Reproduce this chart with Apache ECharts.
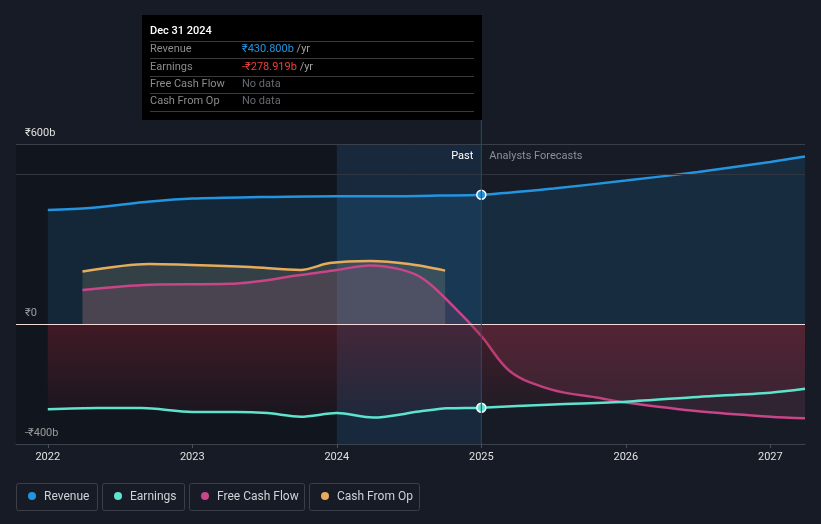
<!DOCTYPE html>
<html><head><meta charset="utf-8">
<script src="https://cdn.jsdelivr.net/npm/echarts@6/dist/echarts.min.js"></script>
<style>html,body{margin:0;padding:0;background:#161b25;}#c{width:821px;height:524px;}</style>
</head><body><div id="c"></div>
<script>
// ---- data (year as decimal, value in ₹ billions) ----
const xTicks = [2022, 2023, 2024, 2025, 2026, 2027];
const yTickValues = [-400, 0, 600];
const yTickLabels = ['-₹400b', '₹0', '₹600b'];
const revenue = [[2022.0,380],[2022.29,387],[2022.71,408],[2023.0,418],[2023.47,423],[2024.0,426],[2024.44,426],[2024.71,428],[2025.0,430.8],[2025.5,452],[2026.0,478],[2026.5,507],[2027.0,540],[2027.24,558]];
const earnings = [[2022.0,-284],[2022.35,-280],[2022.65,-280],[2023.0,-293],[2023.3,-293],[2023.52,-297],[2023.75,-309],[2024.0,-297],[2024.25,-312],[2024.57,-292],[2024.76,-281],[2025.0,-278.9],[2025.5,-268],[2026.0,-259],[2026.5,-243],[2027.0,-229],[2027.24,-216]];
const freeCashFlow = [[2022.24,113],[2022.71,131],[2023.26,134],[2023.75,163],[2024.0,180],[2024.23,195],[2024.44,182],[2024.6,150],[2024.8,62],[2025.0,-40],[2025.2,-158],[2025.48,-218],[2025.82,-247],[2026.0,-262],[2026.52,-292],[2027.0,-309],[2027.24,-314]];
const cashFromOp = [[2022.24,175],[2022.7,200],[2023.0,197],[2023.4,190],[2023.75,180],[2023.95,203],[2024.23,210],[2024.5,200],[2024.75,178]];
const highlightDate = 2025.0;
const tooltipRows = [
  ['Revenue', '₹430.800b', '#2394df', ' /yr'],
  ['Earnings', '-₹278.919b', '#e8413c', ' /yr'],
  ['Free Cash Flow', 'No data', '#666a70', ''],
  ['Cash From Op', 'No data', '#666a70', '']
];
const legendItems = [['Revenue','#2394df'],['Earnings','#5ee3cf'],['Free Cash Flow','#c8458a'],['Cash From Op','#e6ac5c']];

const FONT = 'Roboto, "Noto Sans", sans-serif';
const chart = echarts.init(document.getElementById('c'), null, {renderer:'canvas'});

function withDot(data, x, color){
  return data.map(d => d[0] === x ? {value:d, symbol:'circle', symbolSize:9, itemStyle:{color:color, borderColor:'#fff', borderWidth:1.5}} : d);
}

const option = {
  backgroundColor: '#161b25',
  animation: false,
  grid: {left:16, right:16, top:144, bottom:80},
  xAxis: {
    type:'value', min:2021.78, max:2027.24,
    splitLine:{show:false},
    axisLine:{show:true, onZero:false, lineStyle:{color:'#3c424c'}},
    axisTick:{show:true, length:4, lineStyle:{color:'#4a505a'}, customValues:xTicks},
    axisLabel:{color:'#e0e0e0', fontSize:11, fontFamily:FONT, margin:8, customValues:xTicks, formatter:v=>String(Math.round(v))}
  },
  yAxis: {
    type:'value', min:-400, max:600,
    splitLine:{show:false},
    axisLine:{show:false}, axisTick:{show:false},
    axisLabel:{inside:true, color:'#e0e0e0', fontSize:11, fontFamily:FONT, margin:9, verticalAlign:'bottom', padding:[0,0,5,0],
      customValues:yTickValues, formatter:v=>yTickLabels[yTickValues.indexOf(v)]}
  },
  series: [
    { type:'line', data:[], z:0, silent:true,
      markArea:{silent:true, data:[
        [{xAxis:2021.78, itemStyle:{color:'rgba(8,12,18,0.35)'}},{xAxis:2024.0}],
        [{xAxis:2024.0, itemStyle:{color:'rgba(30,90,150,0.22)'}},{xAxis:highlightDate}]
      ]},
      markLine:{silent:true, symbol:'none', label:{show:false}, data:[
        {yAxis:600, lineStyle:{color:'#3a3f49', width:1, type:'solid'}},
        {yAxis:500, lineStyle:{color:'#30353f', width:1, type:'solid'}}
      ]}
    },
    { name:'Revenue', type:'line', smooth:0.3, symbol:'none', showSymbol:true, z:3,
      data: withDot(revenue, highlightDate, '#2394df'),
      lineStyle:{color:'#2394df', width:2.5}, itemStyle:{color:'#2394df'},
      areaStyle:{color:'rgba(35,148,223,0.2)'} },
    { name:'Cash From Op', type:'line', smooth:0.3, symbol:'none', z:3,
      data: cashFromOp,
      lineStyle:{color:'#e6ac5c', width:2.5}, itemStyle:{color:'#e6ac5c'},
      areaStyle:{color:'rgba(215,195,140,0.24)'} },
    { name:'Free Cash Flow', type:'line', smooth:0.35, symbol:'none', z:4,
      data: freeCashFlow,
      lineStyle:{color:'#c8458a', width:2.5}, itemStyle:{color:'#c8458a'},
      areaStyle:{color:'rgba(210,90,140,0.2)'} },
    { name:'Earnings', type:'line', smooth:0.3, symbol:'none', showSymbol:true, z:5,
      data: withDot(earnings, highlightDate, '#5ee3cf'),
      lineStyle:{color:'#5ee3cf', width:2.5}, itemStyle:{color:'#5ee3cf'},
      areaStyle:{color:{type:'linear', x:0,y:0,x2:0,y2:1, colorStops:[{offset:0,color:'rgba(150,35,50,0.5)'},{offset:1,color:'rgba(150,35,50,0.08)'}]}},
      markLine:{silent:true, symbol:'none', label:{show:false}, z:6, data:[{yAxis:0, lineStyle:{color:'#f3dada', width:1.2, type:'solid'}}]}
    }
  ]
};
chart.setOption(option);

// ---- overlay: divider, past/forecast labels, tooltip panel, legend ----
const xd = chart.convertToPixel({xAxisIndex:0}, highlightDate);
const yTop = chart.convertToPixel({yAxisIndex:0}, 600);
const yBot = chart.convertToPixel({yAxisIndex:0}, -400);
const g = [];
g.push({type:'line', silent:true, z:10, shape:{x1:xd, y1:120, x2:xd, y2:yBot}, style:{stroke:'#2b4a66', lineWidth:1}});
g.push({type:'text', z:10, style:{x:xd-8, y:yTop+12, text:'Past', fill:'#ffffff', font:'11px '+FONT, align:'right', verticalAlign:'middle'}});
g.push({type:'text', z:10, style:{x:xd+8, y:yTop+12, text:'Analysts Forecasts', fill:'#8a9099', font:'11px '+FONT, align:'left', verticalAlign:'middle'}});
// tooltip panel
g.push({type:'rect', z:20, shape:{x:142, y:15, width:340, height:105}, style:{fill:'#000000'}});
g.push({type:'text', z:21, style:{x:150, y:31.5, text:'Dec 31 2024', fill:'#ffffff', font:'500 11px '+FONT, verticalAlign:'middle'}});
const sepY = [41, 58, 76, 93, 111];
sepY.forEach(y => g.push({type:'line', z:21, shape:{x1:150, y1:y+0.5, x2:474, y2:y+0.5}, style:{stroke:'#3a3a3a', lineWidth:1}}));
tooltipRows.forEach((r, i) => {
  const y = 49.5 + i*17.3;
  g.push({type:'text', z:21, style:{x:150, y:y, text:r[0], fill:'#8c8c8c', font:'11px '+FONT, verticalAlign:'middle'}});
  g.push({type:'text', z:21, style:{x:242, y:y, text:'{v|'+r[1]+'}{u|'+r[3]+'}', verticalAlign:'middle',
    rich:{v:{fill:r[2], font:'11px '+FONT}, u:{fill:'#a0a0a0', font:'11px '+FONT}}}});
});
// legend
const legBoxes = [[16,81],[102,82],[189,115],[309,110]];
legendItems.forEach((it, i) => {
  const [bx, bw] = legBoxes[i];
  g.push({type:'rect', z:10, shape:{x:bx+0.5, y:483.5, width:bw, height:27, r:2}, style:{fill:'none', stroke:'#3a3f49', lineWidth:1}});
  g.push({type:'circle', z:11, shape:{cx:bx+16, cy:496, r:4}, style:{fill:it[1]}});
  g.push({type:'text', z:11, style:{x:bx+28, y:496.5, text:it[0], fill:'#cfd2d6', font:'12px '+FONT, verticalAlign:'middle'}});
});
chart.setOption({graphic:g});
</script>
</body></html>
